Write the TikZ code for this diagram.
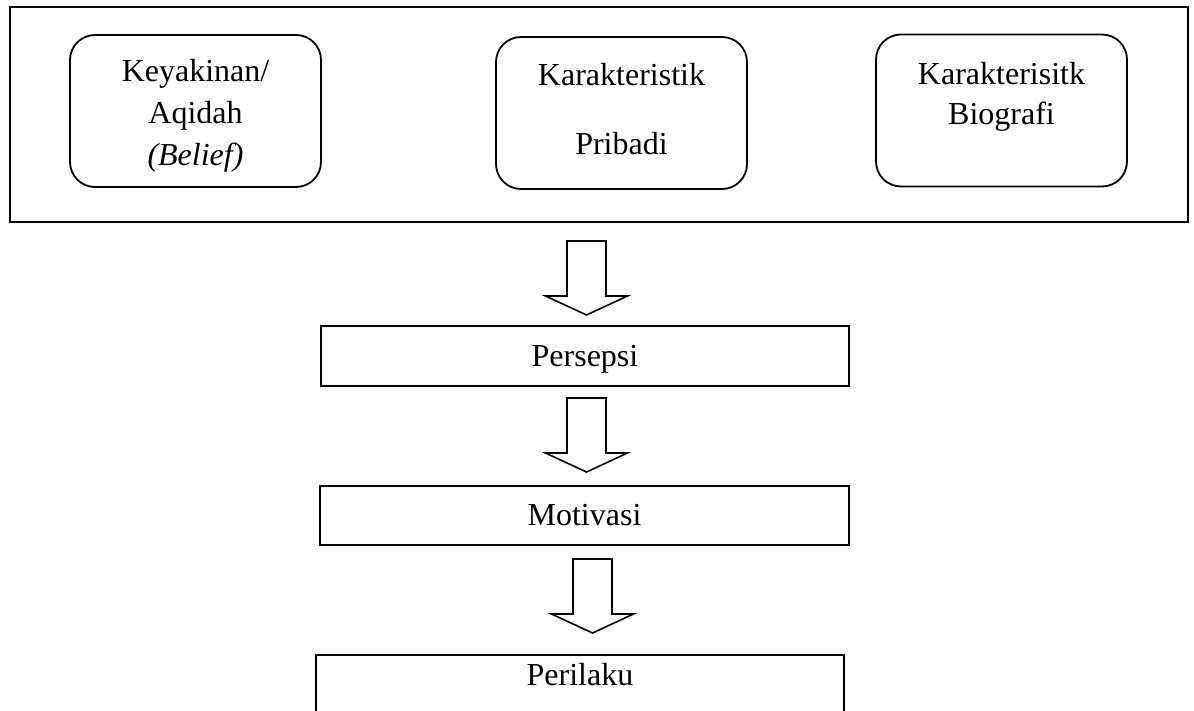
\documentclass[tikz,border=0pt]{standalone}
\usepackage{fontspec}
\setmainfont{Liberation Serif}
\tikzset{
  frame/.style={draw, line width=1pt, minimum width=589pt, minimum height=107.5pt, inner sep=0pt},
  card/.style={draw, line width=0.9pt, rounded corners=12.5pt, minimum width=125.5pt,
    minimum height=76pt, inner sep=0pt, align=center, font=\fontsize{16}{21}\selectfont},
  stage/.style={draw, line width=0.9pt, minimum height=30pt, inner sep=0pt,
    text height=11pt, text depth=1pt, font=\fontsize{16}{21}\selectfont},
  hollow/.style={draw, line width=0.8pt, line join=miter},
}
% hollow block arrow, #1 = top middle of its shaft
\newcommand{\hollowarrow}[1]{%
  \draw[hollow] (#1) ++(-19.5,0) -- ++(39,0) -- ++(0,55) -- ++(21.5,0)
    -- ++(-41,19) -- ++(-41,-19) -- ++(21.5,0) -- cycle;}
\begin{document}
\begin{tikzpicture}[x=0.5pt,y=-0.5pt]
\useasboundingbox (0,0) rectangle (1194,711);
\clip (0,0) rectangle (1194,711);
% faktor
\node[frame] (factors) at (599,114.5) {};
\node[card] (belief) at (195.5,111) {\rule{0pt}{16pt}Keyakinan/\\Aqidah\\\textit{(Belief)}};
\node[card] (pribadi) at (621.5,113) {Karakteristik\\[13.5pt]Pribadi\rule[-4pt]{0pt}{4pt}};
\node[card, font=\fontsize{16}{20}\selectfont] (biografi) at (1001.5,110.5) {Karakterisitk\\Biografi\\[-3pt]\mbox{}};
% alur
\node[stage, minimum width=264pt] (persepsi) at (585,356) {Persepsi};
\node[stage, minimum width=264.5pt, minimum height=29.5pt] (motivasi) at (584.5,515.5) {Motivasi};
\node[stage, minimum width=264pt, text depth=11pt] (perilaku) at (580,685) {Perilaku};
% panah
\coordinate (toPersepsi) at (586.5,241);
\coordinate (toMotivasi) at (586.5,398);
\coordinate (toPerilaku) at (592.5,559);
\hollowarrow{toPersepsi}
\hollowarrow{toMotivasi}
\hollowarrow{toPerilaku}
\end{tikzpicture}
\end{document}
